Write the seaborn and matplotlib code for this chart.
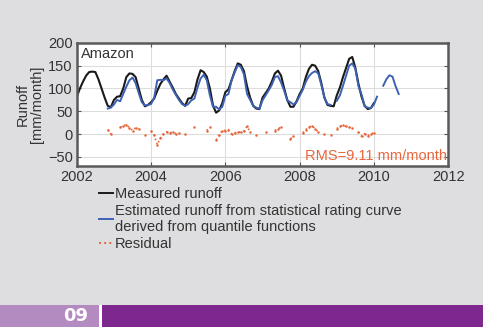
import matplotlib
matplotlib.use("Agg")
import matplotlib.pyplot as plt
from matplotlib.lines import Line2D
from matplotlib.patches import Rectangle
import numpy as np
import pandas as pd
import seaborn as sns

nan = np.nan

# monthly time axis, Jan 2002 .. Sep 2010 (decimal years)
years = 2002 + np.arange(105) / 12

# measured runoff [mm/month], Jan 2002 .. Jan 2010
measured = [
    82, 100, 115, 128, 136, 137, 136, 120, 100, 80, 62, 59,
    75, 82, 83, 100, 125, 133, 132, 125, 100, 75, 61, 64,
    70, 78, 95, 110, 120, 128, 115, 102, 88, 78, 68, 62,
    78, 79, 92, 120, 140, 136, 126, 100, 63, 47, 52, 68,
    92, 98, 118, 138, 155, 152, 138, 105, 80, 62, 56, 55,
    80, 90, 100, 115, 133, 139, 128, 100, 75, 60, 60, 72,
    88, 100, 125, 143, 152, 150, 138, 112, 80, 64, 62, 61,
    85, 102, 125, 145, 165, 169, 145, 110, 82, 62, 55, 57,
    68, nan, nan, nan, nan, nan, nan, nan, nan,
]

# estimated runoff from statistical rating curve
estimated = [
    nan, nan, nan, nan, nan, nan, nan, nan, nan, nan, 56, 58,
    65, 75, 72, 88, 104, 118, 124, 112, 90, 70, 63, 64,
    66, 80, 118, 119, 118, 122, 112, 98, 86, 75, 66, 62,
    66, 74, 78, 102, 122, 130, 118, 85, 60, 60, 54, 60,
    84, 88, 118, 135, 151, 147, 131, 88, 75, 62, 58, 56,
    74, 85, 96, 108, 125, 127, 113, 95, 74, 70, 65, 70,
    84, 97, 115, 127, 134, 138, 133, 108, 80, 66, 64, nan,
    73, 85, 106, 128, 150, 155, 143, 105, 87, 61, 58, 57,
    65, 82, nan, 106, 120, 129, 126, 105, 88,
]

# residual (measured - estimated)
residual = [
    nan, nan, nan, nan, nan, nan, nan, nan, nan, nan, 10, 0,
    nan, nan, 15, 18, 21, 14, 8, 14, 12, nan, -2, nan,
    7, -2, -23, -9, 1, 5, 3, 4, 1, 3, nan, 0,
    nan, nan, 15, nan, nan, nan, 8, 15, nan, -13, -2, 8,
    8, 10, 0, 3, 4, 5, 7, 17, 5, nan, -2, nan,
    nan, 5, nan, nan, 8, 12, 15, nan, nan, -10, -5, nan,
    nan, 3, 10, 16, 18, 12, 5, nan, 0, nan, -2, nan,
    12, 17, 19, 17, 15, 14, nan, 5, -5, 1, -3, 0,
    3, nan, nan, nan, nan, nan, nan, nan, nan,
]


def segments(values):
    """Long frame with a segment id so gaps (NaN) stay gaps."""
    df = pd.DataFrame({"year": years, "value": values})
    df["seg"] = df["value"].isna().cumsum()
    return df.dropna()


BG = "#dedee0"
BLUE = "#3d62b3"
ORANGE = "#e8663c"
TEXT = "#333333"
FS = 10.5

plt.rcParams["font.family"] = ["Liberation Sans", "DejaVu Sans"]

fig = plt.figure(figsize=(4.83, 3.27), dpi=100, facecolor=BG)
ax = fig.add_axes([0.159, 0.492, 0.769, 0.377])

sns.lineplot(data=segments(measured), x="year", y="value", units="seg", estimator=None,
             color="#1a1a1a", linewidth=1.5, ax=ax)
sns.lineplot(data=segments(estimated), x="year", y="value", units="seg", estimator=None,
             color=BLUE, linewidth=1.4, ax=ax)
sns.lineplot(data=segments(residual), x="year", y="value", units="seg", estimator=None,
             color=ORANGE, linewidth=1.2, linestyle=":", marker="o", markersize=1.8,
             markeredgewidth=0, ax=ax)

ax.set_xlim(2002, 2012)
ax.set_ylim(-70, 200)
ax.set_xticks(range(2002, 2013, 2))
ax.set_yticks(range(-50, 201, 50))
ax.set_yticklabels(["\u221250", "0", "50", "100", "150", "200"])
ax.grid(True, color="#dddddd", linewidth=0.8)
ax.set_axisbelow(True)
ax.tick_params(direction="in", length=3, right=True, top=True, labelsize=FS,
               labelcolor=TEXT, color="#555555", pad=3)
for s in ax.spines.values():
    s.set_color("#5a5a5a")
    s.set_linewidth(1.8)
ax.set_xlabel("")
ax.set_ylabel("Runoff\n[mm/month]", fontsize=FS, color=TEXT, labelpad=3, linespacing=0.95)

ax.text(0.012, 0.965, "Amazon", transform=ax.transAxes, ha="left", va="top",
        fontsize=FS, color=TEXT)
ax.text(0.997, 0.025, "RMS=9.11 mm/month", transform=ax.transAxes, ha="right", va="bottom",
        fontsize=FS, color=ORANGE)

handles = [
    Line2D([], [], color="#1a1a1a", linewidth=1.4),
    Line2D([], [], color=BLUE, linewidth=1.4),
    Line2D([], [], color=ORANGE, linewidth=1.4, linestyle=":"),
]
labels = [
    "Measured runoff",
    "Estimated runoff from statistical rating curve\nderived from quantile functions",
    "Residual",
]
fig.legend(handles, labels, loc="upper left", bbox_to_anchor=(99 / 483, 1 - 187 / 327),
           frameon=False, fontsize=FS, handlelength=0.95, handletextpad=0.15,
           labelspacing=0.2, borderaxespad=0, borderpad=0, labelcolor=TEXT)

# footer band
fig.add_artist(Rectangle((0, 0), 99 / 483, 22 / 327, transform=fig.transFigure,
                         facecolor="#b48bc1", edgecolor="none"))
fig.add_artist(Rectangle((102 / 483, 0), 1, 22 / 327, transform=fig.transFigure,
                         facecolor="#7e288f", edgecolor="none"))
fig.add_artist(Rectangle((99 / 483, 0), 3 / 483, 22 / 327, transform=fig.transFigure,
                         facecolor="white", edgecolor="none"))
fig.text(76 / 483, 11 / 327, "09", ha="center", va="center", fontsize=13,
         fontweight="bold", color="white", family=["DejaVu Sans"])

fig.savefig("out.png", dpi=100, facecolor=BG)
